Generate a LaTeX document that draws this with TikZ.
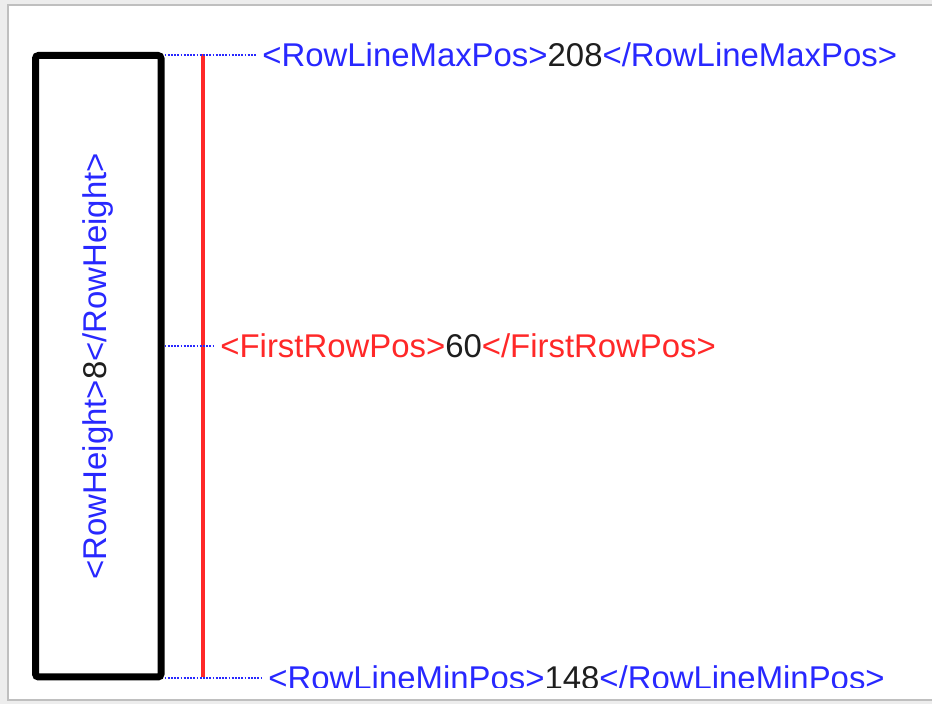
\documentclass[tikz,border=0pt]{standalone}
\usepackage{fontspec}
\setmainfont{Liberation Sans}
\usepackage{tikz}
\definecolor{tagblue}{RGB}{40,40,255}
\definecolor{tagred}{RGB}{255,40,40}
\definecolor{valgray}{RGB}{30,30,30}

\begin{document}
\begin{tikzpicture}[x=0.5pt,y=0.5pt]
        \tikzstyle{every node}=[inner sep=0pt, font=\fontsize{16.45}{19}\selectfont]
        \tikzstyle{guide}=[tagblue, line width=0.75pt, dash pattern=on 0.9pt off 0.7pt, shorten >=3pt]
        \useasboundingbox (0,0) rectangle (932,704);
        % page frame
        \fill[black!7] (0,0) rectangle (932,704);
        \fill[white, draw=black!25, line width=1pt] (8,4) rectangle (940,699);
        % row box and row line
        \node (RowBox)[draw, line width=3.5pt, rounded corners=1.5pt, minimum width=62.75pt, minimum height=310.75pt] at (98.25,337.75) {};
        \node (HeightTag)[rotate=90, text=tagblue] at (RowBox.center) {<RowHeight>\textcolor{valgray}{8}</RowHeight>};
        \coordinate (LineTop) at (203,650);
        \coordinate (LineBot) at (203,27);
        \draw[tagred, line width=1.6pt] (LineTop) -- (LineBot);
        % tags
        \node (MaxTag)[anchor=west, text=tagblue] at (262,649) {<RowLineMaxPos>\textcolor{valgray}{208}</RowLineMaxPos>};
        \node (FirstTag)[anchor=west, text=tagred] at (220,358) {<FirstRowPos>\textcolor{valgray}{60}</FirstRowPos>};
        \begin{scope}
          \clip (0,16) rectangle (932,704);
          \node (MinTag)[anchor=west, text=tagblue] at (268,26) {<RowLineMinPos>\textcolor{valgray}{148}</RowLineMinPos>};
        \end{scope}
        \draw[guide] (RowBox.east |- MaxTag.west) -- (MaxTag.west);
        \draw[guide] (RowBox.east |- FirstTag.west) -- (FirstTag.west);
        \draw[guide] (RowBox.east |- MinTag.west) -- (MinTag.west);
\end{tikzpicture}
\end{document}
